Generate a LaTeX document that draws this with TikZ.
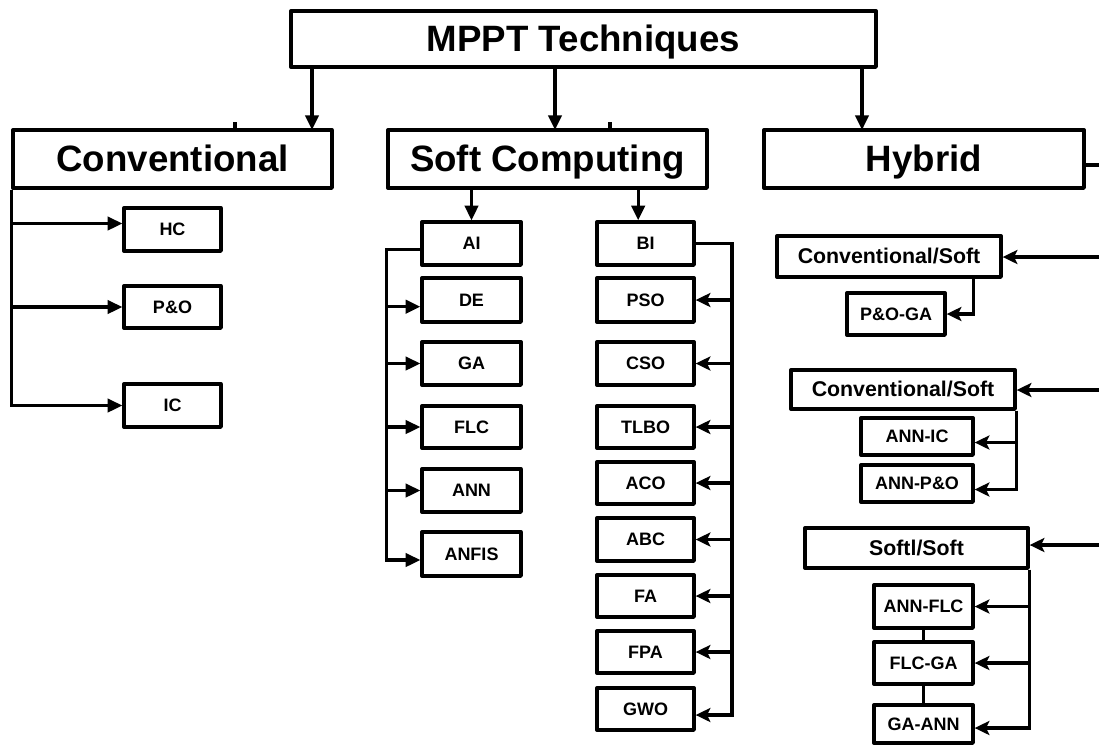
\documentclass[tikz,border=0pt]{standalone}
\usepackage{fontspec}
\setmainfont{Liberation Sans}
\usetikzlibrary{arrows.meta}

\tikzset{
  box/.style={draw, line width=2.5pt, line join=round, inner sep=0pt, align=center},
  big/.style={box, font=\fontsize{27.5}{30}\selectfont\bfseries, text height=20pt, text depth=1pt},
  mid/.style={box, font=\fontsize{16}{18}\selectfont\bfseries, text height=11.5pt, text depth=0.5pt},
  small/.style={box, font=\fontsize{13.5}{15}\selectfont\bfseries, text height=9.7pt, text depth=0.4pt},
  link/.style={line width=2.3pt},
  arr/.style={link, -{Triangle[length=11pt,width=10pt]}},
  sarr/.style={link, -{Stealth[length=11pt,width=10.5pt,inset=2.5pt]}},
}

% \bx{style}{name}{x1}{y1}{x2}{y2}{text}: box spanning the given corners
\newcommand\bx[7]{\node[#1, minimum width={(#5-#3)*0.75pt}, minimum height={(#6-#4)*0.75pt}] (#2) at ({(#3+#5)/2},{(#4+#6)/2}) {#7};}

\begin{document}
\begin{tikzpicture}[x=0.75pt,y=-0.75pt]
\useasboundingbox (0,0) rectangle (1099,744);

% top level
\bx{big}{title}{291}{11}{876}{67}{MPPT Techniques}
\bx{big}{conv}{13}{130}{332}{188}{Conventional}
\bx{big}{soft}{388}{130}{707}{188}{Soft Computing}
\bx{big}{hyb}{764}{130}{1084}{188}{Hybrid}

\coordinate (convin) at (312,130);
\coordinate (softin) at (555,130);
\coordinate (hybin) at (862,130);
\draw[arr] (title.south -| convin) -- (convin);
\draw[arr] (title.south -| softin) -- (softin);
\draw[arr] (title.south -| hybin) -- (hybin);

\coordinate (tickA) at (235,122);
\coordinate (tickB) at (610,122);
\draw[link] (tickA) -- (tickA |- conv.north);
\draw[link] (tickB) -- (tickB |- soft.north);

% conventional methods
\bx{small}{hc}{124}{208}{221}{251}{HC}
\bx{small}{po}{124}{286}{221}{328}{P\&O}
\bx{small}{ic}{124}{384}{221}{427}{IC}

\coordinate (hcin) at ([yshift=4.5pt]hc.west);
\draw[arr] (conv.south west) |- (ic.west);
\draw[arr] (conv.south west |- hcin) -- (hcin);
\draw[arr] (conv.south west |- po.west) -- (po.west);

% soft computing: AI branch
\bx{small}{ai}{422}{222}{521}{265}{AI}
\bx{small}{de}{422}{278}{521}{322}{DE}
\bx{small}{ga}{422}{342}{521}{385}{GA}
\bx{small}{flc}{422}{406}{521}{448}{FLC}
\bx{small}{ann}{422}{469}{521}{512}{ANN}
\bx{small}{anfis}{422}{532}{521}{576}{ANFIS}

% soft computing: BI branch
\bx{small}{bi}{597}{222}{694}{265}{BI}
\bx{small}{pso}{597}{278}{694}{322}{PSO}
\bx{small}{cso}{597}{342}{694}{385}{CSO}
\bx{small}{tlbo}{597}{406}{694}{448}{TLBO}
\bx{small}{aco}{597}{462}{694}{504}{ACO}
\bx{small}{abc}{597}{518}{694}{561}{ABC}
\bx{small}{fa}{597}{575}{694}{617}{FA}
\bx{small}{fpa}{597}{631}{694}{673}{FPA}
\bx{small}{gwo}{597}{688}{694}{730}{GWO}

\coordinate (biin) at ([xshift=-5.5pt]bi.north);
\draw[arr] (soft.south -| ai.north) -- (ai.north);
\draw[arr] (soft.south -| biin) -- (biin);

\coordinate (aiout) at ([yshift=-4.5pt]ai.west);
\coordinate (dein) at ([yshift=-5pt]de.west);
\coordinate (anfisin) at ([yshift=-4.5pt]anfis.west);
\draw[arr] (aiout) -- (aiout -| soft.west) -- (anfisin -| soft.west) -- (anfisin);
\draw[arr] (dein -| soft.west) -- (dein);
\draw[arr] (ga.west -| soft.west) -- (ga.west);
\draw[arr] (flc.west -| soft.west) -- (flc.west);
\draw[arr] (ann.west -| soft.west) -- (ann.west);

\coordinate (bibus) at (732,243);
\coordinate (gwoin) at ([yshift=-4.5pt]gwo.east);
\draw[sarr] (bi.east) -- (bi.east -| bibus) |- (gwoin);
\foreach \n in {pso,cso,tlbo,aco,abc,fa,fpa}
  \draw[sarr] (\n.east -| bibus) -- (\n.east);

% hybrid methods
\bx{mid}{cs1}{777}{236}{1001}{277}{Conventional/Soft}
\bx{small}{pga}{847}{293}{945}{335}{P\&O-GA}
\bx{mid}{cs2}{791}{370}{1015}{409}{Conventional/Soft}
\bx{small}{annic}{861}{418}{973}{455}{ANN-IC}
\bx{small}{annpo}{861}{465}{973}{502}{ANN-P\&O}
\bx{mid}{ss}{805}{528}{1028}{568}{Softl/Soft}
\bx{small}{annflc}{874}{585}{973}{628}{ANN-FLC}
\bx{small}{flcga}{874}{642}{973}{684}{FLC-GA}
\bx{small}{gaann}{874}{705}{973}{743}{GA-ANN}

\coordinate (hout) at (1102,165);
\draw[link] (hyb.east |- hout) -- (hout);

\coordinate (e1) at (1102,257);
\coordinate (e2) at (1102,390);
\coordinate (e3) at (1102,545);
\draw[sarr] (e1) -- (e1 -| cs1.east);
\draw[sarr] (e2) -- (e2 -| cs2.east);
\draw[sarr] (e3) -- (e3 -| ss.east);

\coordinate (pgtap) at ([xshift=-21.75pt]cs1.south east);
\draw[sarr] (pgtap) |- (pga.east);

\coordinate (annicin) at ([yshift=-4.5pt]annic.east);
\coordinate (annpoin) at ([yshift=-4.5pt]annpo.east);
\draw[sarr] (cs2.south east) |- (annpoin);
\draw[sarr] (cs2.south east |- annicin) -- (annicin);

\coordinate (gaannin) at ([yshift=-3pt]gaann.east);
\draw[sarr] (ss.south east) |- (gaannin);
\draw[sarr] (ss.south east |- annflc.east) -- (annflc.east);
\draw[sarr] (ss.south east |- flcga.east) -- (flcga.east);
\draw[link] (annflc.south) -- (flcga.north);
\draw[link] (flcga.south) -- (gaann.north);
\end{tikzpicture}
\end{document}
